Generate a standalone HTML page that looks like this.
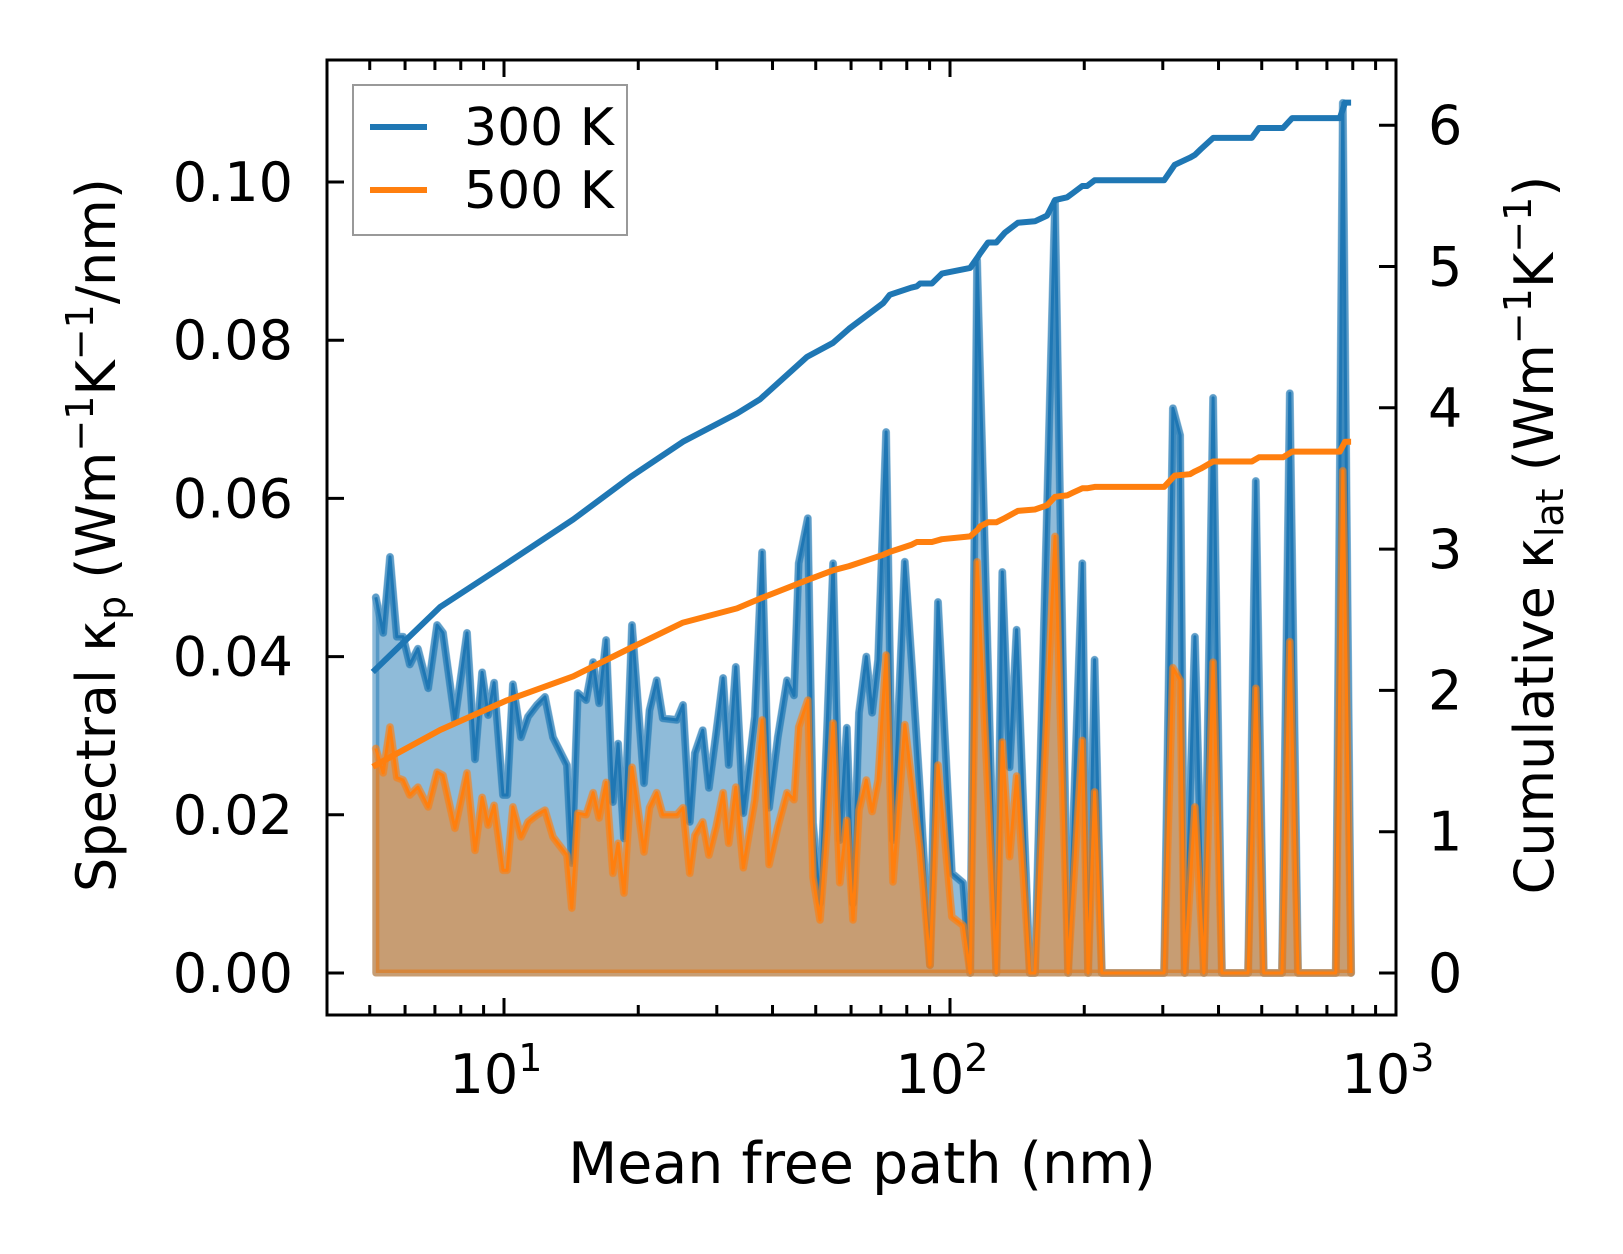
<!DOCTYPE html>
<html><head><meta charset="utf-8"><style>
html,body{margin:0;padding:0;background:#fff}
svg{display:block}
text{font-family:"DejaVu Sans","Liberation Sans",sans-serif;fill:#000}
</style></head><body>
<svg id="chart" width="1623" height="1254" viewBox="0 0 1623 1254" xmlns="http://www.w3.org/2000/svg">
<g id="marks"></g>
<g id="axes"></g>
</svg>
<script>
// Spectral data (shared MFP grid, nm)
const specMfp = [5.16,5.36,5.55,5.75,5.94,6.15,6.41,6.76,7.08,7.30,7.76,8.26,8.61,8.93,9.21,9.50,9.95,10.16,10.47,10.92,11.32,11.86,12.36,12.88,13.84,14.19,14.64,15.28,15.84,16.34,16.94,17.55,18.02,18.58,19.36,20.6,21.2,22.0,22.7,24.4,25.2,26.1,26.8,27.9,28.8,29.9,31.0,31.9,33.1,34.4,36.5,37.9,39.3,41.1,43.1,44.7,45.8,48.0,49.3,51.1,53.0,54.7,56.6,58.7,60.6,62.5,64.9,66.9,69.0,71.9,74.5,79.2,82.2,85.7,90.2,94.0,101,107,111,115,127,131,136,141,151,155,172,184,198,204,211,219,302,316,328,336,354,371,389,407,466,485,505,555,578,603,733,760,793];
const spec300 = [0.0475,0.043,0.0526,0.0425,0.0425,0.039,0.041,0.036,0.044,0.043,0.032,0.043,0.027,0.038,0.0326,0.0367,0.0225,0.0225,0.0365,0.0298,0.0324,0.0339,0.0349,0.0298,0.0263,0.0139,0.0354,0.0345,0.0393,0.0341,0.0421,0.0216,0.029,0.017,0.044,0.024,0.0332,0.037,0.0322,0.032,0.0339,0.0191,0.0278,0.0307,0.0234,0.0303,0.0373,0.0263,0.0387,0.0202,0.0324,0.0532,0.0209,0.0298,0.037,0.0351,0.0518,0.0575,0.019,0.0088,0.0307,0.0518,0.0168,0.031,0.0088,0.0329,0.040,0.0329,0.0396,0.0684,0.0168,0.052,0.0387,0.0228,0.001,0.0469,0.0126,0.0114,0,0.0901,0,0.0507,0.026,0.0434,0,0,0.0975,0,0.0518,0,0.0396,0,0,0.0714,0.068,0,0.0425,0,0.0727,0,0,0.0622,0,0,0.0733,0,0,0.110,0];
const spec500 = [0.0284,0.0253,0.0311,0.0247,0.0244,0.0225,0.0235,0.021,0.0254,0.025,0.0183,0.0253,0.0155,0.0222,0.0187,0.0212,0.013,0.013,0.021,0.0172,0.0191,0.020,0.0206,0.0172,0.0149,0.0082,0.0202,0.020,0.0228,0.0196,0.0241,0.0126,0.0164,0.0101,0.026,0.0153,0.0209,0.0228,0.020,0.020,0.0209,0.0126,0.0174,0.0191,0.0149,0.0185,0.0228,0.0164,0.0235,0.0133,0.0219,0.032,0.0137,0.0185,0.0228,0.0219,0.0311,0.0345,0.0121,0.0067,0.0181,0.0316,0.0114,0.0193,0.0067,0.0206,0.0244,0.0204,0.0244,0.0402,0.0115,0.0314,0.024,0.0155,0.001,0.0263,0.0071,0.006,0,0.052,0,0.0292,0.0147,0.0249,0,0,0.0552,0,0.0294,0,0.0229,0,0,0.0386,0.037,0,0.021,0,0.0393,0,0,0.036,0,0,0.0419,0,0,0.0635,0];
// Cumulative data
const cumMfp = [5.08,7.19,10.16,14.3,19.2,25.2,33.3,37.5,47.8,54.7,59.4,70.8,73.3,81.8,84.3,85.7,91.1,95.9,111,115.6,116.7,121.7,127,132.8,142,155,165,172,183,188.7,198,203,211,302,319,345,354,365,389,475,493,558,585,748,769,793];
const cum300 = [2.13,2.59,2.90,3.21,3.51,3.76,3.96,4.06,4.36,4.46,4.56,4.74,4.80,4.85,4.86,4.88,4.88,4.95,4.99,5.07,5.09,5.17,5.17,5.24,5.31,5.32,5.36,5.47,5.49,5.52,5.57,5.57,5.61,5.61,5.72,5.77,5.79,5.83,5.91,5.91,5.98,5.98,6.05,6.05,6.16,6.16];
const cum500 = [1.46,1.72,1.93,2.10,2.30,2.48,2.58,2.65,2.78,2.85,2.88,2.96,2.98,3.03,3.05,3.05,3.05,3.07,3.09,3.14,3.16,3.19,3.19,3.22,3.27,3.28,3.31,3.37,3.38,3.40,3.43,3.43,3.44,3.44,3.52,3.53,3.55,3.57,3.62,3.62,3.65,3.65,3.69,3.69,3.76,3.76];
const leftTicks = [0,0.02,0.04,0.06,0.08,0.10];
const leftTickLabels = ["0.00","0.02","0.04","0.06","0.08","0.10"];
const rightTicks = [0,1,2,3,4,5,6];
const xMajor = [10,100,1000];
const xMajorExp = ["1","2","3"];

const L=327,R=1396,T=60,B=1015;
const X = v => 504 + 446*(Math.log10(v)-1);
const YL = v => 973 - v*7910;
const YR = v => 973 - v*141.3;
const NS="http://www.w3.org/2000/svg";
const marks=document.getElementById('marks'), axes=document.getElementById('axes');
function mk(tag,attrs,parent){const e=document.createElementNS(NS,tag);for(const k in attrs)e.setAttribute(k,attrs[k]);parent.appendChild(e);return e;}

function spectral(vals,color,fill,halo,name){
  let d=`M${X(specMfp[0])},${YL(0)}`;
  specMfp.forEach((m,i)=>{d+=` L${X(m).toFixed(1)},${YL(vals[i]).toFixed(1)}`;});
  d+=` L${X(specMfp[specMfp.length-1])},${YL(0)} Z`;
  const f=mk('path',{d:d,fill:fill,stroke:fill,'stroke-width':7,'stroke-linejoin':'round'},marks);
  
  
  const pts=specMfp.map((m,i)=>X(m).toFixed(1)+','+YL(vals[i]).toFixed(1)).join(' ');
  const h=mk('polyline',{points:pts,fill:'none',stroke:halo,'stroke-width':8,'stroke-linejoin':'round','stroke-linecap':'round'},marks);
  
  
  const l=mk('polyline',{points:pts,fill:'none',stroke:color,'stroke-width':3,'stroke-linejoin':'round'},marks);
  
  
}
spectral(spec300,'#1f77b4','rgba(31,119,180,0.5)','rgba(31,119,180,0.45)','spectral-300k');
spectral(spec500,'#ff7f0e','rgba(255,127,14,0.5)','rgba(255,127,14,0.3)','spectral-500k');
function cum(vals,color,name){
  const pts=cumMfp.map((m,i)=>X(m).toFixed(1)+','+YR(vals[i]).toFixed(1)).join(' ');
  const l=mk('polyline',{points:pts,fill:'none',stroke:color,'stroke-width':6,'stroke-linejoin':'round'},marks);
  
  
}
cum(cum300,'#1f77b4','cumulative-300k-line');
cum(cum500,'#ff7f0e','cumulative-500k-line');

const fr=mk('rect',{x:L,y:T,width:R-L,height:B-T,fill:'none',stroke:'#000','stroke-width':3},axes);


for(let dec=0;dec<3;dec++){for(let k=1;k<=9;k++){const v=k*Math.pow(10,dec);const x=X(v);if(x<L||x>R+1)continue;const len=(k===1)?17:10;
  mk('line',{x1:x,y1:B,x2:x,y2:B-len,stroke:'#000','stroke-width':3},axes);
  mk('line',{x1:x,y1:T,x2:x,y2:T+len,stroke:'#000','stroke-width':3},axes);}}
mk('line',{x1:X(1000),y1:B,x2:X(1000),y2:B-17,stroke:'#000','stroke-width':3},axes);
xMajor.forEach((v,i)=>{const t=mk('text',{x:X(v)-8,y:1093,'font-size':54,'text-anchor':'middle'},axes);
  t.textContent='10';const s=mk('tspan',{dy:-22,'font-size':38},t);s.textContent=xMajorExp[i];
  
  });
leftTicks.forEach((v,i)=>{mk('line',{x1:L,y1:YL(v),x2:L+17,y2:YL(v),stroke:'#000','stroke-width':3},axes);
  const t=mk('text',{x:293,y:YL(v)+19,'font-size':54,'text-anchor':'end'},axes);t.textContent=leftTickLabels[i];
  
  });
rightTicks.forEach(v=>{mk('line',{x1:R,y1:YR(v),x2:R-17,y2:YR(v),stroke:'#000','stroke-width':3},axes);
  const t=mk('text',{x:1428,y:YR(v)+19,'font-size':54},axes);t.textContent=String(v);
  
  });
</script>
<svg style="position:absolute;left:0;top:0" width="1623" height="1254">
<text x="862" y="1183" font-size="57" text-anchor="middle">Mean free path (nm)</text>
<text transform="translate(115,535) rotate(-90)" font-size="54" text-anchor="middle">Spectral κ<tspan font-size="38" dy="10">p</tspan><tspan dy="-10"> (Wm</tspan><tspan font-size="38" dy="-22">−1</tspan><tspan dy="22">K</tspan><tspan font-size="38" dy="-22">−1</tspan><tspan dy="22">/nm)</tspan></text>
<text transform="translate(1553,535) rotate(-90)" font-size="54" text-anchor="middle">Cumulative κ<tspan font-size="38" dy="10">lat</tspan><tspan dy="-10"> (Wm</tspan><tspan font-size="38" dy="-22">−1</tspan><tspan dy="22">K</tspan><tspan font-size="38" dy="-22">−1</tspan><tspan dy="22">)</tspan></text>
<g>
<rect x="353" y="85" width="274" height="150" fill="#fff" fill-opacity="0.8" stroke="#999" stroke-width="2"/>
<line x1="370" y1="127" x2="427" y2="127" stroke="#1f77b4" stroke-width="6"/>
<line x1="370" y1="190" x2="427" y2="190" stroke="#ff7f0e" stroke-width="6"/>
<text x="464" y="145" font-size="52">300 K</text>
<text x="464" y="208" font-size="52">500 K</text>
</g>
</svg>
</body></html>
